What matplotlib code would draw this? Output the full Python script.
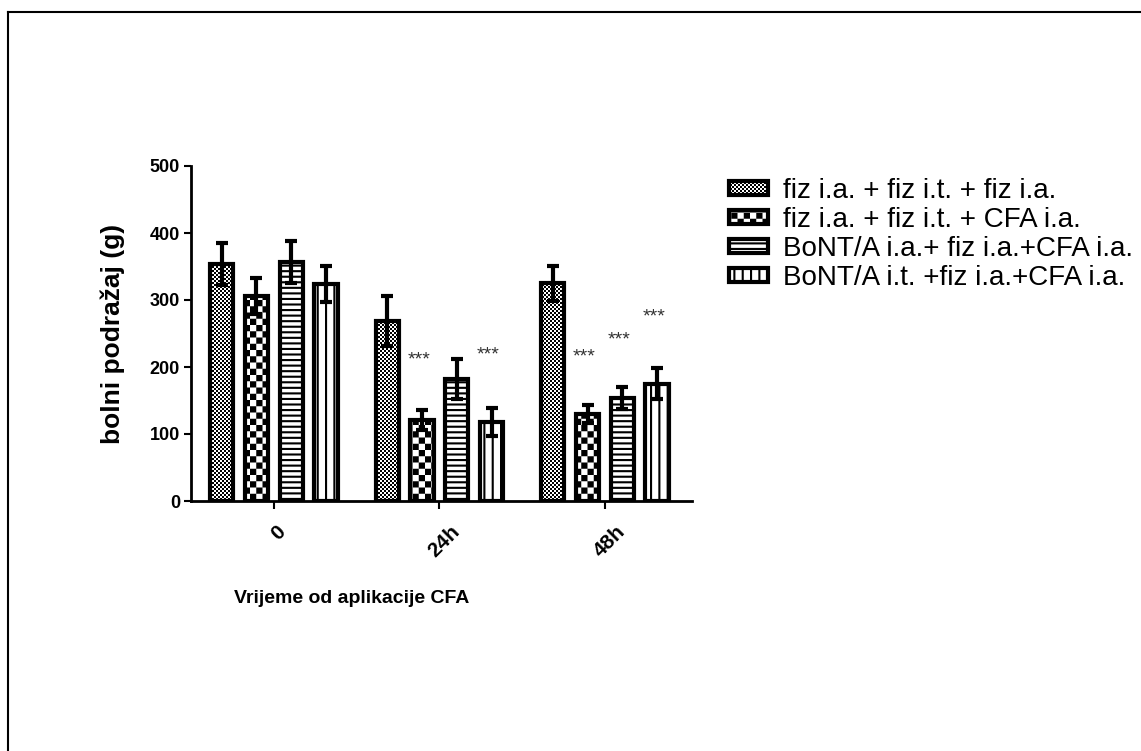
import warnings
import numpy as np
import matplotlib
matplotlib.use('Agg')
import matplotlib.pyplot as plt
from matplotlib import hatch as mhatch
from matplotlib import transforms
from matplotlib.path import Path
from matplotlib.lines import Line2D

warnings.filterwarnings('ignore')

# data
groups = ['0', '24h', '48h']
series = ['fiz i.a. + fiz i.t. + fiz i.a.',
          'fiz i.a. + fiz i.t. + CFA i.a.',
          'BoNT/A i.a.+ fiz i.a.+CFA i.a.',
          'BoNT/A i.t. +fiz i.a.+CFA i.a.']
means = [[354, 269, 325],
         [306, 121, 130],
         [357, 182, 154],
         [324, 118, 175]]
errs = [[31, 37, 26],
        [27, 15, 13],
        [31, 30, 16],
        [27, 21, 23]]
# height of the "***" marks (None = no mark)
stars = [[None, None, None],
         [None, 210, 215],
         [None, None, 240],
         [None, 218, 275]]


def checker(n):
    s = 1.0 / n
    return [(i * s, j * s, s, s) for i in range(n) for j in range(n) if (i + j) % 2 == 0]


class BlockHatch(mhatch.HatchPatternBase):
    # filled blocks: c = fine checker, k = coarse checker, h = rows, v = columns
    def __init__(self, hatch, density):
        r = []
        if 'c' in hatch:
            r += checker(50)
        if 'k' in hatch:
            r += checker(16)
        if 'h' in hatch:
            r += [(0, k / 18, 1, 0.021) for k in range(18)]
        if 'v' in hatch:
            r += [(k / 12, 0, 0.021, 1) for k in range(12)]
        self.rects = r
        self.num_vertices = 5 * len(r)

    def set_vertices_and_codes(self, vertices, codes):
        for i, (x, y, w, h) in enumerate(self.rects):
            vertices[5 * i:5 * i + 5] = [(x, y), (x + w, y), (x + w, y + h), (x, y + h), (x, y)]
            codes[5 * i:5 * i + 5] = [Path.MOVETO, Path.LINETO, Path.LINETO, Path.LINETO, Path.CLOSEPOLY]


mhatch._hatch_types.append(BlockHatch)

plt.rcParams['font.family'] = ['Liberation Sans', 'DejaVu Sans']
plt.rcParams['hatch.linewidth'] = 0.0

fig = plt.figure(figsize=(11.41, 7.51), dpi=100)
ax = fig.add_axes([191 / 1141, 250 / 751, 501 / 1141, 335 / 751])

x = np.arange(len(groups))
pitch = 0.21
width = 0.14
hatches = ['c', 'k', 'h', 'v']
for i in range(len(series)):
    pos = x + (i - 1.5) * pitch
    ax.bar(pos, means[i], width, facecolor='white', edgecolor='black', linewidth=3,
           hatch=hatches[i], label=series[i], zorder=2)
    ax.errorbar(pos, means[i], yerr=errs[i], fmt='none', ecolor='black', elinewidth=3,
                capsize=4.5, capthick=3, zorder=3)
    for p, s in zip(pos, stars[i]):
        if s is not None:
            ax.text(p - 0.02, s, '***', ha='center', va='center', fontsize=14, color='#333333')

ax.set_xlim(-0.5, 2.526)
ax.set_ylim(0, 500)
for side in ['top', 'right']:
    ax.spines[side].set_visible(False)
for side in ['left', 'bottom']:
    ax.spines[side].set_linewidth(2)

ax.set_yticks(range(0, 501, 100), [str(v) for v in range(0, 501, 100)],
              fontweight='bold', fontsize=13)
ax.set_xticks(x, groups, rotation=45, fontweight='bold', fontsize=15)
ax.tick_params(axis='y', length=5, width=1.5, pad=3)
ax.tick_params(axis='x', length=6, width=1.5, pad=9)
shift = transforms.ScaledTranslation(0.05, 0, fig.dpi_scale_trans)
for lbl in ax.get_xticklabels():
    lbl.set_transform(lbl.get_transform() + shift)

ax.text(-0.156, 0.5, 'bolni podražaj (g)', transform=ax.transAxes, rotation=90,
        ha='center', va='center', fontsize=19, fontweight='bold')
ax.text(0.321, -0.29, 'Vrijeme od aplikacije CFA', transform=ax.transAxes,
        ha='center', va='center', fontsize=14, fontweight='bold')

ax.legend(loc='upper left', bbox_to_anchor=(729 / 1141, 1 - 178 / 751),
          bbox_transform=fig.transFigure, frameon=False, fontsize=20,
          borderpad=0, borderaxespad=0, handlelength=1.4, handleheight=0.38,
          handletextpad=0.55, labelspacing=0.11)

# outer frame (left and top edges only are visible)
fig.add_artist(Line2D([8 / 1141, 8 / 1141], [0, 1 - 12 / 751], transform=fig.transFigure,
                      color='black', lw=1.5))
fig.add_artist(Line2D([8 / 1141, 1], [1 - 12 / 751, 1 - 12 / 751], transform=fig.transFigure,
                      color='black', lw=1.5))

fig.savefig('out.png', dpi=100)
